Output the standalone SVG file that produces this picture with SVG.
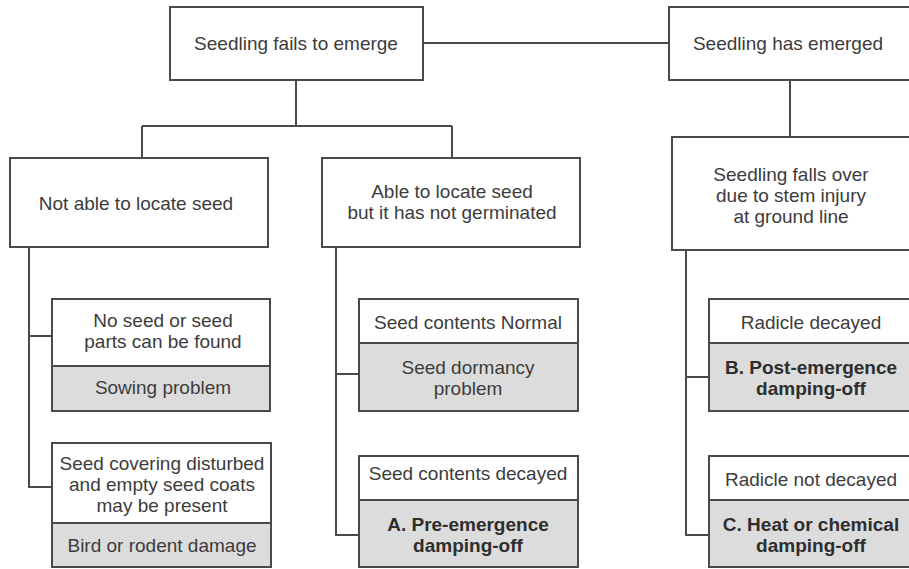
<svg xmlns="http://www.w3.org/2000/svg" width="909" height="569" viewBox="0 0 909 569">
<style>
.box{fill:#ffffff;stroke:#4a4a4a;stroke-width:2}
.res{fill:#dcdcdc;stroke:#4a4a4a;stroke-width:2}
.t{font-family:"Liberation Sans",Arial,sans-serif;font-size:19px;fill:#3c3c3c;text-anchor:middle}
.b{font-weight:bold;fill:#2e2e2e}
.c{fill:none;stroke:#4a4a4a;stroke-width:2}
</style>
<rect width="909" height="569" fill="#ffffff"/>
<g id="connectors">
<path class="c" d="M423,43 H669"/>
<path class="c" d="M296,80 V126 M142,126 H452 M142,126 V158 M452,126 V158"/>
<path class="c" d="M790,80 V137"/>
<path class="c" d="M29,247 V487 H52 M29,336 H52"/>
<path class="c" d="M336,247 V535 H359 M336,374 H359"/>
<path class="c" d="M686,250 V535 H709 M686,377 H709"/>
</g>
<g id="n-fails">
<rect class="box" x="170" y="7" width="253" height="73"/>
<text class="t" x="296" y="50">Seedling fails to emerge</text>
</g>
<g id="n-emerged">
<rect class="box" x="669" y="7" width="250" height="73"/>
<text class="t" x="788" y="50">Seedling has emerged</text>
</g>
<g id="n-notlocate">
<rect class="box" x="10" y="158" width="258" height="89"/>
<text class="t" x="136" y="210">Not able to locate seed</text>
</g>
<g id="n-locate">
<rect class="box" x="322" y="158" width="258" height="89"/>
<text class="t" x="452" y="198">Able to locate seed</text>
<text class="t" x="452" y="219">but it has not germinated</text>
</g>
<g id="n-fallsover">
<rect class="box" x="672" y="137" width="247" height="113"/>
<text class="t" x="791" y="181">Seedling falls over</text>
<text class="t" x="791" y="202">due to stem injury</text>
<text class="t" x="791" y="223">at ground line</text>
</g>
<g id="n-noseed">
<rect class="box" x="52" y="299" width="218" height="67"/>
<rect class="res" x="52" y="366" width="218" height="45"/>
<text class="t" x="163" y="327">No seed or seed</text>
<text class="t" x="163" y="348">parts can be found</text>
<text class="t" x="163" y="394">Sowing problem</text>
</g>
<g id="n-covering">
<rect class="box" x="52" y="443" width="219" height="80"/>
<rect class="res" x="52" y="523" width="219" height="44"/>
<text class="t" x="162" y="470">Seed covering disturbed</text>
<text class="t" x="162" y="491">and empty seed coats</text>
<text class="t" x="162" y="512">may be present</text>
<text class="t" x="162" y="552">Bird or rodent damage</text>
</g>
<g id="n-normal">
<rect class="box" x="359" y="299" width="219" height="44"/>
<rect class="res" x="359" y="343" width="219" height="68"/>
<text class="t" x="468" y="329">Seed contents Normal</text>
<text class="t" x="468" y="374">Seed dormancy</text>
<text class="t" x="468" y="395">problem</text>
</g>
<g id="n-decayed">
<rect class="box" x="359" y="456" width="219" height="44"/>
<rect class="res" x="359" y="500" width="219" height="67"/>
<text class="t" x="468" y="480">Seed contents decayed</text>
<text class="t b" x="468" y="531">A. Pre-emergence</text>
<text class="t b" x="468" y="552">damping-off</text>
</g>
<g id="n-radicle">
<rect class="box" x="709" y="299" width="210" height="44"/>
<rect class="res" x="709" y="343" width="210" height="68"/>
<text class="t" x="811" y="329">Radicle decayed</text>
<text class="t b" x="811" y="374">B. Post-emergence</text>
<text class="t b" x="811" y="395">damping-off</text>
</g>
<g id="n-radiclenot">
<rect class="box" x="709" y="456" width="210" height="44"/>
<rect class="res" x="709" y="500" width="210" height="67"/>
<text class="t" x="811" y="486">Radicle not decayed</text>
<text class="t b" x="811" y="531">C. Heat or chemical</text>
<text class="t b" x="811" y="552">damping-off</text>
</g>
</svg>
